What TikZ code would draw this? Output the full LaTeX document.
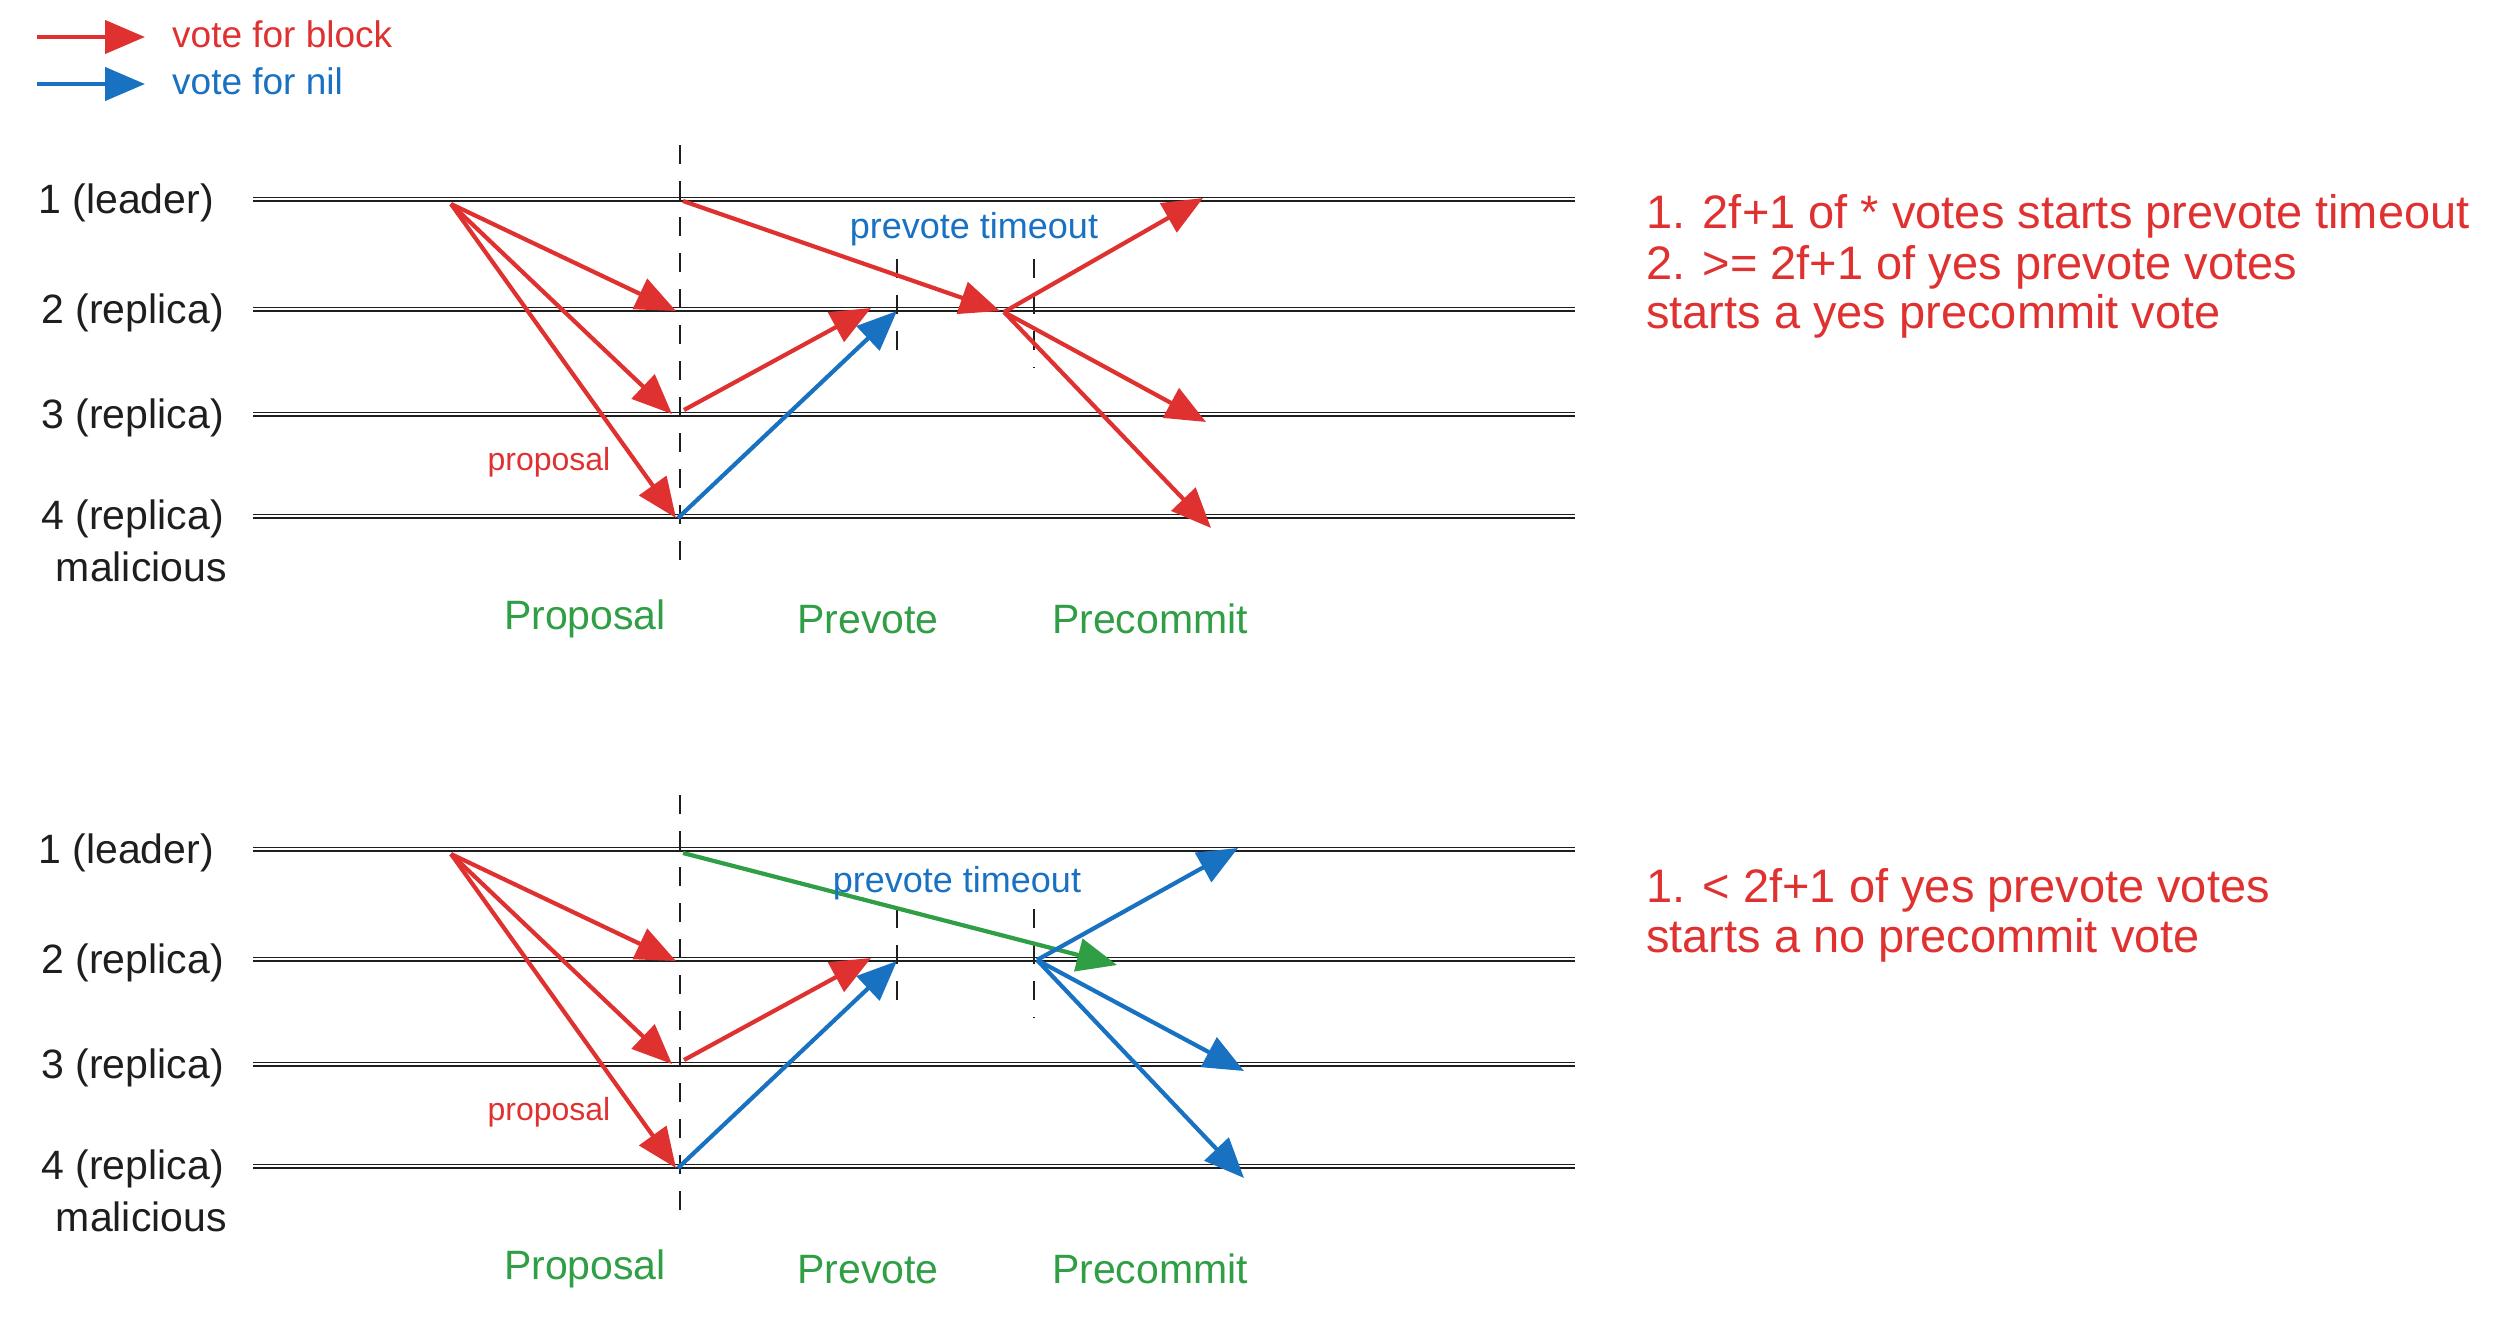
\documentclass[tikz,border=0pt]{standalone}
\usepackage{fontspec}
\setmainfont{Liberation Sans}
\usetikzlibrary{arrows.meta}
\definecolor{xred}{HTML}{E03131}
\definecolor{xblue}{HTML}{1971C2}
\definecolor{xgreen}{HTML}{2F9E44}
\definecolor{xink}{HTML}{1E1E1E}
\tikzset{
  lane/.style={draw=xink, line width=2.8pt},
  lanethin/.style={draw=xink, line width=1.0pt},
  phase/.style={draw=xink, line width=2.8pt, dash pattern=on 19pt off 17pt},
  msg/.style={line width=4.2pt, -{Triangle[length=40pt,width=33pt]}},
  vblock/.style={msg, draw=xred},
  vnil/.style={msg, draw=xblue},
  vgreen/.style={msg, draw=xgreen},
  txt/.style={inner sep=0pt, text height=.75em, text depth=.25em},
  lbl/.style={txt, text=xink, font=\fontsize{41}{41}\selectfont},
  phasename/.style={txt, text=xgreen, font=\fontsize{41}{41}\selectfont},
  smallred/.style={txt, text=xred, font=\fontsize{32}{32}\selectfont},
  timeoutlbl/.style={txt, text=xblue, font=\fontsize{36}{36}\selectfont},
  legendtxt/.style={txt, font=\fontsize{37}{37}\selectfont},
  note/.style={txt, anchor=west, text=xred, font=\fontsize{47}{47}\selectfont},
}
\newcommand\lanesblock[1]{%
  \node[lbl,anchor=east] (n1#1) at (214,211) {1 (leader)};
  \node[lbl,anchor=east] (n2#1) at (224,321) {2 (replica)};
  \node[lbl,anchor=east] (n3#1) at (224,426) {3 (replica)};
  \node[lbl,anchor=east] (n4#1) at (224,527) {4 (replica)};
  \node[lbl,anchor=east] (mal#1) at (227,579) {malicious};
  \foreach \k/\yy in {1/201,2/311,3/416,4/518}{
    \coordinate (s\k#1) at (253,\yy);
    \coordinate (e\k#1) at (1575,\yy);
    \draw[lane] (s\k#1) -- (e\k#1);
    \draw[lanethin] ([yshift=3.8pt]s\k#1) -- ([yshift=3.8pt]e\k#1);
  }
  \coordinate (pt#1) at (680,145);
  \coordinate (pb#1) at (680,571);
  \draw[phase] (pt#1) -- (pb#1);
  \coordinate (src#1) at (451,204);
  \coordinate (p2#1) at (676,311);
  \coordinate (p3#1) at (672,414);
  \coordinate (p4#1) at (676,518);
  \draw[vblock] (src#1) -- (p2#1);
  \draw[vblock] (src#1) -- (p3#1);
  \draw[vblock] (src#1) -- (p4#1);
  \node[smallred] (plab#1) at (549,468) {proposal};
  \coordinate (a3#1) at (684,410);
  \coordinate (b2#1) at (871,308);
  \draw[vblock] (a3#1) -- (b2#1);
  \coordinate (a4#1) at (678,518);
  \coordinate (c2#1) at (897,311);
  \draw[vnil] (a4#1) -- (c2#1);
  \coordinate (ta#1) at (897,259);
  \coordinate (tb#1) at (897,366);
  \draw[phase] (ta#1) -- (tb#1);
  \coordinate (tc#1) at (1034,259);
  \coordinate (td#1) at (1034,368);
  \draw[phase] (tc#1) -- (td#1);
  \node[phasename] (ph1#1) at (585,627) {Proposal};
  \node[phasename] (ph2#1) at (868,631) {Prevote};
  \node[phasename] (ph3#1) at (1150,631) {Precommit};
}
\begin{document}
\begin{tikzpicture}[x=1pt,y=-1pt]
\useasboundingbox (0,0) rectangle (2507,1317);
% legend
\coordinate (lgrs) at (37,37);
\coordinate (lgre) at (145,37);
\draw[vblock] (lgrs) -- (lgre);
\node[legendtxt, anchor=west, text=xred] (lgrt) at (172,45) {vote for block};
\coordinate (lgbs) at (37,84);
\coordinate (lgbe) at (145,84);
\draw[vnil] (lgbs) -- (lgbe);
\node[legendtxt, anchor=west, text=xblue] (lgbt) at (172,92) {vote for nil};
% top half
\begin{scope}
\lanesblock{T}
\end{scope}
\coordinate (lt) at (683,201);
\coordinate (m2) at (1000,311);
\draw[vblock] (lt) -- (m2);
\coordinate (o2) at (1004,312);
\coordinate (q1) at (1203,198);
\coordinate (q3) at (1206,422);
\coordinate (q4) at (1211,528);
\draw[vblock] (o2) -- (q1);
\draw[vblock] (o2) -- (q3);
\draw[vblock] (o2) -- (q4);
\node[timeoutlbl] (toT) at (974,236) {prevote timeout};
\node[note] (na1) at (1646,226) {1. 2f+1 of * votes starts prevote timeout};
\node[note] (na2) at (1646,277) {2. >= 2f+1 of yes prevote votes};
\node[note] (na3) at (1646,326) {starts a yes precommit vote};
% bottom half
\begin{scope}[yshift=-650pt]
\lanesblock{B}
\end{scope}
\coordinate (gl) at (683,853);
\coordinate (gr) at (1117,965);
\draw[vgreen] (gl) -- (gr);
\coordinate (o2b) at (1037,960);
\coordinate (w1) at (1238,848);
\coordinate (w3) at (1244,1071);
\coordinate (w4) at (1244,1178);
\draw[vnil] (o2b) -- (w1);
\draw[vnil] (o2b) -- (w3);
\draw[vnil] (o2b) -- (w4);
\node[timeoutlbl] (toB) at (957,890) {prevote timeout};
\node[note] (nb1) at (1646,900) {1. < 2f+1 of yes prevote votes};
\node[note] (nb2) at (1646,950) {starts a no precommit vote};
\end{tikzpicture}
\end{document}
